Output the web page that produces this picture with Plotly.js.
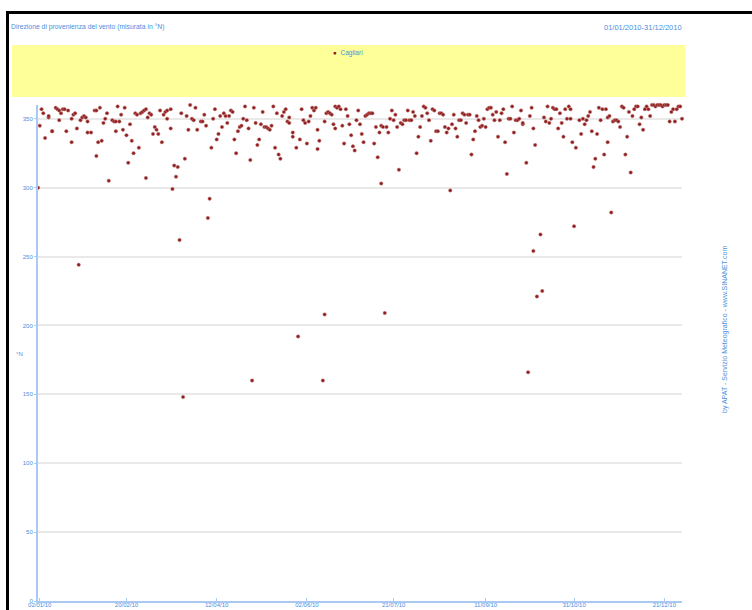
<!DOCTYPE html>
<html>
<head>
<meta charset="utf-8">
<script src="https://cdn.plot.ly/plotly-3.0.1.min.js"></script>
<style>
html,body{margin:0;padding:0;background:#fff;}
#wrap{position:relative;width:752px;height:610px;overflow:hidden;}
#chart{position:absolute;left:0;top:0;width:752px;height:610px;}
#frame{position:absolute;left:6px;top:11px;width:760px;height:620px;border-top:3px solid #000;border-left:3px solid #000;pointer-events:none;}
</style>
</head>
<body>
<div id="wrap"><div id="chart"></div><div id="frame"></div></div>
<script>
// Day of year (0 = 01/01/2010) and wind direction (°N)
const dayIndex = [
0,1,2,3,4,6,6,8,8,10,11,12,12,13,14,15,16,17,19,19,20,21,22,23,24,25,26,27,28,28,30,32,33,33,34,35,36,37,38,39,40,
42,43,44,44,45,46,47,48,49,50,51,52,53,54,55,56,57,58,59,60,61,61,62,63,64,65,66,67,68,69,70,71,72,73,73,75,75,76,77,78,79,80,81,82,83,84,85,86,87,88,89,90,
92,93,94,95,96,97,98,99,100,101,102,103,104,105,106,107,108,109,110,111,112,113,114,115,116,117,118,119,120,121,122,123,124,125,126,127,128,129,130,131,132,133,134,135,136,137,138,139,140,141,142,142,144,144,146,147,148,149,150,151,152,153,154,155,156,157,158,158,159,
161,162,162,163,164,165,166,167,168,168,169,170,171,172,173,174,175,176,177,178,179,180,181,182,183,184,185,186,187,188,189,190,191,192,193,194,194,195,196,197,198,199,200,201,202,203,204,205,206,207,208,209,210,211,212,213,214,215,216,217,218,219,220,221,222,223,224,225,226,227,228,229,230,231,232,233,234,235,236,237,238,239,240,241,242,243,244,245,
246,247,248,249,250,251,252,253,254,255,256,257,258,259,260,261,262,263,264,265,266,267,268,269,270,271,272,273,274,274,276,277,278,279,280,280,281,282,284,285,286,287,288,289,290,291,292,293,294,295,296,297,298,299,300,301,301,302,303,304,306,307,308,309,310,311,312,313,314,315,316,317,318,319,320,321,322,322,323,324,325,326,327,328,329,330,331,332,333,334,335,336,337,338,339,340,341,342,343,344,
345,346,347,348,349,350,351,352,353,354,355,356,357,358,359,360,361,362,363,364
];
const windDir = [
300,345,357,354,336,351,352,341,341,358,357,356,349,354,357,357,341,356,350,333,353,354,343,244,349,351,352,351,340,348,340,356,356,323,333,358,334,347,350,354,305,
349,348,348,341,359,348,353,342,358,338,318,346,334,325,354,353,329,354,355,356,357,307,351,354,353,339,344,342,339,356,333,353,355,356,350,357,343,299,316,308,315,262,354,148,321,352,342,360,350,349,358,342,
348,348,353,345,278,292,329,350,357,335,339,352,344,354,352,347,352,356,355,335,325,341,344,345,350,359,349,343,320,160,358,347,331,335,346,355,344,344,343,342,345,359,329,354,324,321,352,355,357,348,351,347,337,340,329,192,335,357,349,347,332,348,352,358,356,358,328,342,334,160,208,
348,354,355,354,353,346,343,359,358,359,357,345,332,357,352,346,338,330,327,349,356,346,339,333,352,353,354,354,354,332,344,322,340,303,345,344,209,344,340,350,356,349,353,344,313,347,346,349,349,356,349,349,355,352,325,337,344,352,359,358,354,349,334,357,356,341,341,354,354,353,344,340,343,298,346,353,343,337,349,349,354,353,347,353,353,324,335,341,
352,349,344,345,350,344,357,358,358,353,349,355,337,349,354,357,333,310,350,350,359,340,349,349,350,356,346,347,318,166,352,358,343,254,331,221,266,225,351,348,359,347,350,358,357,357,343,354,347,337,357,350,359,350,357,333,272,329,349,339,350,346,349,352,355,341,315,321,339,358,349,357,324,357,333,351,352,282,348,349,349,348,344,359,358,324,337,355,311,352,357,359,359,346,351,342,357,359,357,352,
360,360,359,360,360,360,359,360,360,360,348,355,357,348,357,359,359,350,331,325
];
const station = 'Cagliari';
const chartTitle = 'Direzione di provenienza del vento (misurata in °N)';
const periodText = '01/01/2010-31/12/2010';
const creditText = 'by APAT - Servizio Meteografico - www.SINANET.com';
const yUnit = '°N';
const tickDates = ['2010-01-02','2010-02-20','2010-04-12','2010-06-02','2010-07-21','2010-09-11','2010-10-31','2010-12-21'];
const tickLabels = ['02/01/10','20/02/10','12/04/10','02/06/10','21/07/10','11/09/10','31/10/10','21/12/10'];
const yTicks = [0,50,100,150,200,250,300,350];

const dates = dayIndex.map(d => new Date(Date.UTC(2010,0,1+d)).toISOString().slice(0,10));

const blue = '#4a8fe0';
const fam = '"Liberation Sans", Arial, sans-serif';
const font = {family:fam, size:6, color:blue};
const font7 = {family:fam, size:7, color:blue};

// plot area geometry (px)
const L = 38, R = 682, T = 105, B = 601;
const px = x => (x - L) / (R - L);
const py = y => (B - y) / (B - T);

const trace = {
  x: dates, y: windDir, type:'scatter', mode:'markers', name: station,
  marker:{symbol:'circle', size:3.5, color:'#8e1f1f', line:{width:0.5, color:'#c98080'}},
  showlegend:false, cliponaxis:false
};

const layout = {
  width:752, height:610,
  margin:{l:L, r:752-R, t:T, b:610-B, pad:0},
  paper_bgcolor:'#ffffff', plot_bgcolor:'#ffffff',
  font: font,
  showlegend:false,
  xaxis:{
    type:'date', range:['2010-01-01','2010-12-31'],
    tickvals: tickDates, ticktext: tickLabels,
    showgrid:false, zeroline:false,
    showline:true, linecolor:'#a9c8f2', linewidth:2,
    ticks:'inside', ticklen:3, tickcolor:'#a9c8f2', tickwidth:1,
    ticklabelstandoff:-3,
    tickfont:font, fixedrange:true
  },
  yaxis:{
    range:[0,360], tickvals:yTicks, ticktext:yTicks.map(String),
    showgrid:true, gridcolor:'#e9e9e9', gridwidth:2,
    zeroline:false, showline:true, linecolor:'#a9c8f2', linewidth:2,
    ticks:'outside', ticklen:2, tickcolor:'#a9c8f2',
    tickfont:font, fixedrange:true
  },
  shapes:[
    {type:'rect', xref:'paper', yref:'paper', x0:px(12), x1:px(685), y0:py(97), y1:py(45),
     fillcolor:'#ffff99', line:{width:0}, layer:'below'}
  ],
  annotations:[
    {xref:'paper', yref:'paper', x:px(9), y:py(27), xanchor:'left', yanchor:'middle',
     text: chartTitle, showarrow:false, font:{family:fam, size:6.8, color:blue}},
    {xref:'paper', yref:'paper', x:px(684), y:py(27), xanchor:'right', yanchor:'middle',
     text: periodText, showarrow:false, font:{family:fam, size:7.5, color:blue}},
    {xref:'paper', yref:'paper', x:px(331), y:py(53), xanchor:'left', yanchor:'middle',
     text: '<span style="color:#8e1f1f">●</span>  ' + station, showarrow:false, font:{family:fam, size:6.5, color:blue}},
    {xref:'paper', yref:'paper', x:px(725), y:py(330), xanchor:'center', yanchor:'middle',
     text: creditText, textangle:-90, showarrow:false, font:font7},
    {xref:'paper', yref:'paper', x:px(19), y:py(354), xanchor:'center', yanchor:'middle',
     text: yUnit, showarrow:false, font:font}
  ]
};

Plotly.newPlot('chart', [trace], layout, {displayModeBar:false, staticPlot:true});
</script>
</body>
</html>
